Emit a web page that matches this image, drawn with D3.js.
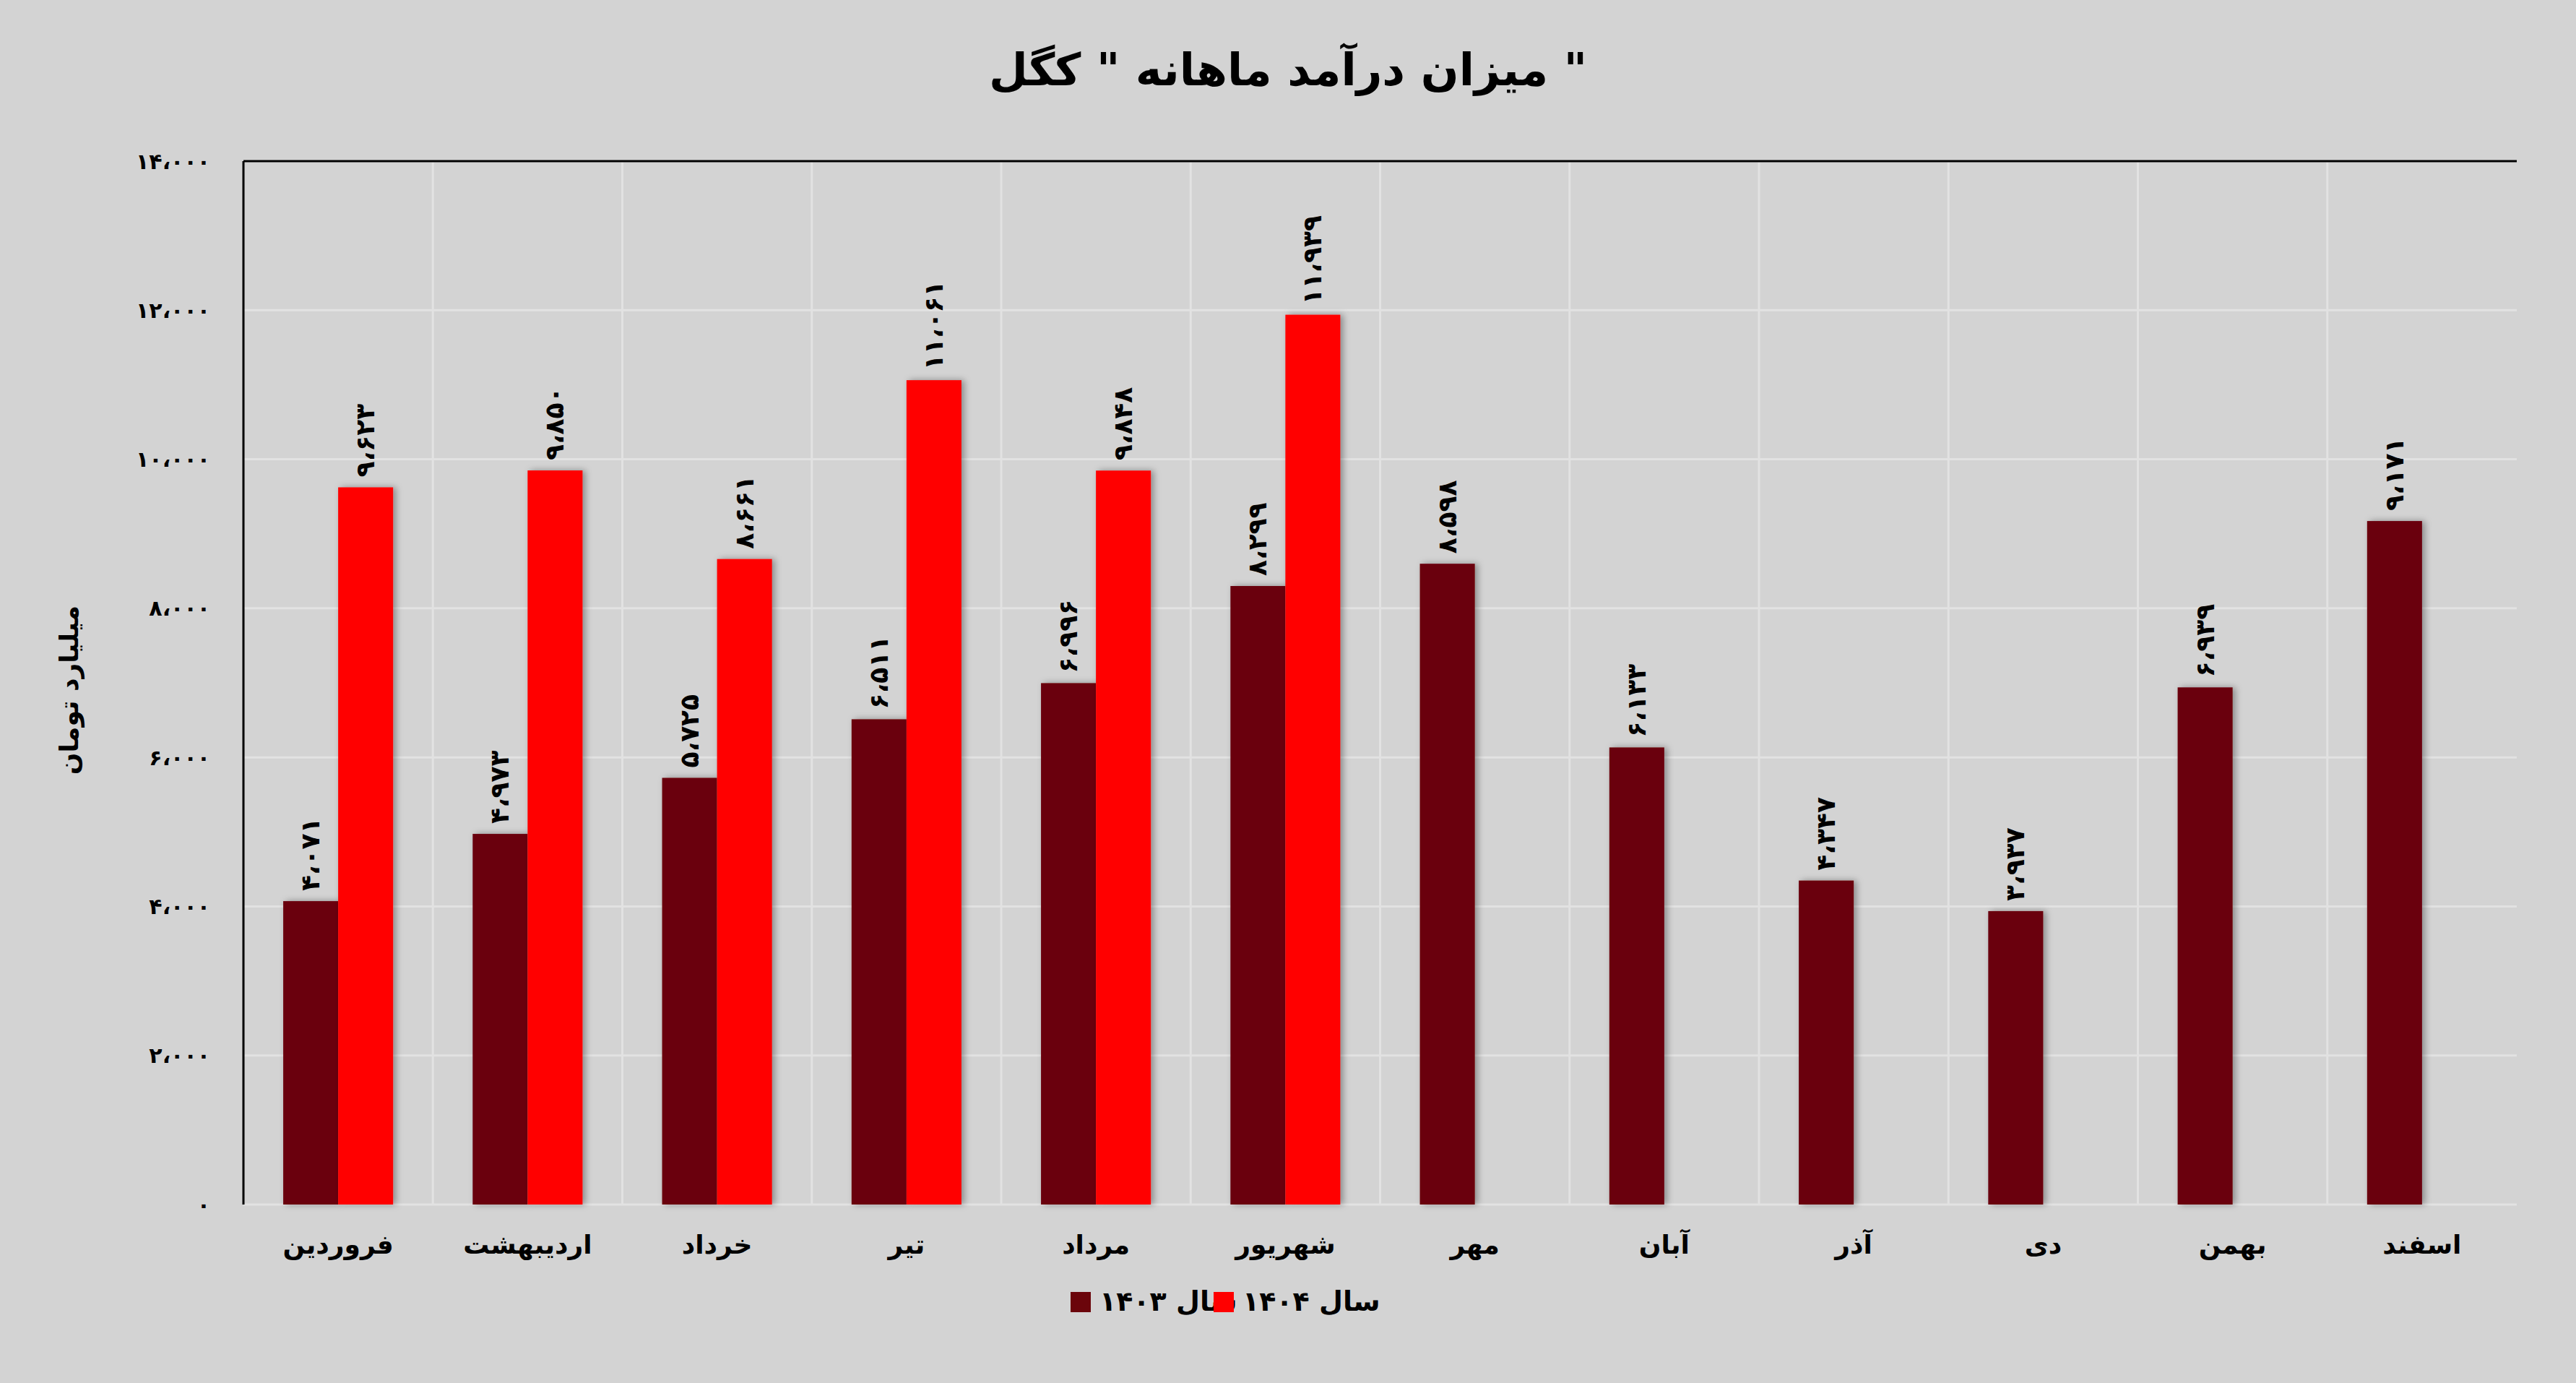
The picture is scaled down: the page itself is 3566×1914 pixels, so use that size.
<!DOCTYPE html>
<html><head><meta charset="utf-8">
<script src="https://cdn.jsdelivr.net/npm/d3@7"></script>
<style>body{margin:0;background:#d3d3d3;}svg{display:block;}text{font-family:"DejaVu Sans",sans-serif;}</style>
</head><body><div id="wrapper"></div>
<script>
const months = ["فروردین","اردیبهشت","خرداد","تیر","مرداد","شهریور","مهر","آبان","آذر","دی","بهمن","اسفند"];
const values1403 = [4071,4973,5725,6511,6996,8299,8598,6133,4347,3937,6939,9171];
const values1404 = [9623,9850,8661,11061,9848,11939,null,null,null,null,null,null];
const yTicks = [0,2000,4000,6000,8000,10000,12000,14000];
const seriesNames = ["سال ۱۴۰۳","سال ۱۴۰۴"];
const colors = ["#6b050b","#ff0000"];

function fa(n){
    const s = d3.format(",")(n).replace(/,/g,"،");
    return s.replace(/\d/g, d => "۰۱۲۳۴۵۶۷۸۹"[d]);
}

const W = 3566, H = 1914;
const m = {left:337, right:W-3484, top:223, bottom:H-1667};
const bw = W - m.left - m.right, bh = H - m.top - m.bottom;

const svg = d3.select("#wrapper").append("svg").attr("width",W).attr("height",H);
svg.append("rect").attr("width",W).attr("height",H).attr("fill","#d3d3d3");
const defs = svg.append("defs");
const f = defs.append("filter").attr("id","sh").attr("x","-30%").attr("width","160%");
f.append("feDropShadow").attr("dx",4).attr("dy",0).attr("stdDeviation",5).attr("flood-color","#000").attr("flood-opacity",0.35);

const g = svg.append("g").attr("transform",`translate(${m.left},${m.top})`);

const x = d3.scaleBand().domain(months).range([0,bw]);
const x1 = d3.scaleBand().domain([0,1]).range([x.bandwidth()*0.21,x.bandwidth()*0.79]);
const y = d3.scaleLinear().domain([0,14000]).range([bh,0]);

// grid
g.selectAll(".hg").data(yTicks).join("line")
    .attr("x1",0).attr("x2",bw).attr("y1",d=>y(d)).attr("y2",d=>y(d))
    .attr("stroke","#e2e2e2").attr("stroke-width",3);
g.selectAll(".vg").data(months.slice(1)).join("line")
    .attr("x1",d=>x(d)).attr("x2",d=>x(d)).attr("y1",0).attr("y2",bh)
    .attr("stroke","#e2e2e2").attr("stroke-width",3);

const series = [values1403, values1404];
series.forEach((vals,si) => {
    const data = months.map((mo,i)=>({mo,v:vals[i]})).filter(d=>d.v!=null);
    g.selectAll(".b"+si).data(data).join("rect")
        .attr("x",d=>x(d.mo)+x1(si)).attr("width",x1.bandwidth())
        .attr("y",d=>y(d.v)).attr("height",d=>bh-y(d.v))
        .attr("fill",colors[si]).attr("filter","url(#sh)");
    g.selectAll(".l"+si).data(data).join("text")
        .attr("transform",d=>`translate(${x(d.mo)+x1(si)+x1.bandwidth()/2+12},${y(d.v)-14}) rotate(-90)`)
        .attr("font-size",36).attr("font-weight","bold").attr("fill","#000")
        .attr("text-anchor","start").attr("direction","ltr")
        .text(d=>fa(d.v));
});

// frame
g.append("line").attr("x1",0).attr("x2",bw).attr("y1",0).attr("y2",0).attr("stroke","#000").attr("stroke-width",3);
g.append("line").attr("x1",0).attr("x2",0).attr("y1",0).attr("y2",bh).attr("stroke","#000").attr("stroke-width",3);

// y ticks
g.selectAll(".yt").data(yTicks).join("text")
    .attr("x",-46).attr("y",d=>y(d)).attr("dy","0.35em").attr("text-anchor","end")
    .attr("font-size",30).attr("font-weight","bold").attr("direction","ltr").text(d=>fa(d));

// x labels
g.selectAll(".xt").data(months).join("text")
    .attr("x",d=>x(d)+x.bandwidth()/2).attr("y",bh+68).attr("text-anchor","middle")
    .attr("font-size",36).attr("font-weight","bold").text(d=>d);

// y title
svg.append("text").attr("transform","translate(108,955) rotate(-90)").attr("text-anchor","middle")
    .attr("font-size",36).attr("font-weight","bold").text("میلیارد تومان");

// title
svg.append("text").attr("x",W/2).attr("y",118).attr("text-anchor","middle")
    .attr("font-size",62).attr("font-weight","bold").text("میزان درآمد ماهانه \" کگل \"");

// legend
const leg = [{c:colors[0],t:seriesNames[0],x:1482},{c:colors[1],t:seriesNames[1],x:1680}];
leg.forEach(l=>{
    svg.append("rect").attr("x",l.x).attr("y",1788).attr("width",28).attr("height",28).attr("fill",l.c);
    svg.append("text").attr("x",l.x+40).attr("y",1814).attr("font-size",38).attr("font-weight","bold")
        .attr("text-anchor","start").attr("direction","ltr").text(l.t.replace("سال ","") + " سال");
});
</script></body></html>
